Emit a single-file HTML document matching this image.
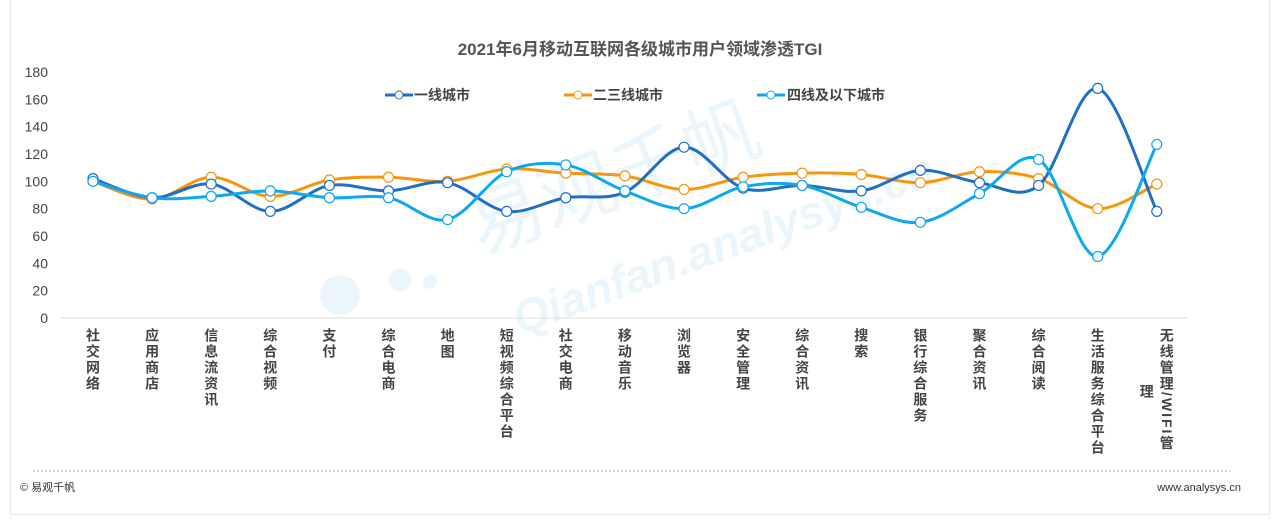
<!DOCTYPE html>
<html><head><meta charset="utf-8"><style>
body{margin:0;background:#fff;width:1280px;height:524px;overflow:hidden;font-family:"Liberation Sans","Noto Sans CJK SC",sans-serif;}
.card{position:absolute;left:10px;top:0;width:1258px;height:514px;border:1px solid #eaeaea;border-top:none;}
.lab{position:absolute;top:328px;writing-mode:vertical-rl;font-size:14px;font-weight:bold;color:#444;line-height:16px;letter-spacing:2px;}
</style></head><body>
<div class="card"></div>
<svg width="1280" height="524" style="position:absolute;left:0;top:0" id="s" font-family="Liberation Sans, Noto Sans CJK SC, sans-serif">
<g fill="#e3f1fb" opacity="0.7">
<text x="480" y="255" font-size="76" transform="rotate(-20 480 255)" font-family="Noto Sans CJK SC, sans-serif">易观千帆</text>
<text x="520" y="335" font-size="46" font-weight="bold" font-style="italic" transform="rotate(-20 520 335)">Qianfan.analysys.cn</text>
<circle cx="340" cy="295" r="20"/><circle cx="400" cy="280" r="11"/><circle cx="430" cy="282" r="7"/>
</g>
<text x="640" y="55" text-anchor="middle" font-size="17" font-weight="bold" fill="#555">2021年6月移动互联网各级城市用户领域渗透TGI</text>
<g font-size="14" fill="#444" text-anchor="end" id="yt"></g>
<line x1="60" y1="318" x2="1187" y2="318" stroke="#ddd" stroke-width="1"/>
<g id="series"></g>
<g font-size="14" font-weight="bold" fill="#444">
<line x1="385" y1="95" x2="413" y2="95" stroke="#1f6fc5" stroke-width="3"/><circle cx="399" cy="95" r="4" fill="#fff" stroke="#1f6fc5"/>
<text x="414" y="100">一线城市</text>
<line x1="564" y1="95" x2="592" y2="95" stroke="#f7960e" stroke-width="3"/><circle cx="578" cy="95" r="4" fill="#fff" stroke="#f7960e"/>
<text x="593" y="100">二三线城市</text>
<line x1="757" y1="95" x2="785" y2="95" stroke="#0ea8ef" stroke-width="3"/><circle cx="771" cy="95" r="4" fill="#fff" stroke="#0ea8ef"/>
<text x="787" y="100">四线及以下城市</text>
</g>
<line x1="33" y1="471" x2="1230" y2="471" stroke="#888" stroke-dasharray="1.5 2.5"/>
<text x="20" y="491" font-size="11" fill="#333">© 易观千帆</text>
<text x="1241" y="491" font-size="11" fill="#333" text-anchor="end">www.analysys.cn</text>
</svg>
<div id="labs"></div>
<script>
const xs=[];for(let i=0;i<19;i++)xs.push(93+i*59.1);
const Y=v=>318-v*246/180;
let yt='';for(let v=0;v<=180;v+=20)yt+=`<text x="48" y="${Y(v)+5}">${v}</text>`;
document.getElementById('yt').innerHTML=yt;
const S=[
["#f7960e",[100,87,103,89,101,103,100,109,106,104,94,103,106,105,99,107,102,80,98]],
["#1f6fc5",[102,88,98,78,97,93,99,78,88,92,125,95,97,93,108,99,97,168,78]],
["#0ea8ef",[100,88,89,93,88,88,72,107,112,93,80,96,97,81,70,91,116,45,127]]];
let out='';
for(const [c,d] of S){
 const p=d.map((v,i)=>[xs[i],Y(v)]);
 let s=`M${p[0][0]},${p[0][1]}`;
 for(let i=0;i<p.length-1;i++){
  const a=p[i-1]||p[i],b=p[i],e=p[i+1],f=p[i+2]||e;
  s+=` C${b[0]+(e[0]-a[0])/6},${b[1]+(e[1]-a[1])/6} ${e[0]-(f[0]-b[0])/6},${e[1]-(f[1]-b[1])/6} ${e[0]},${e[1]}`;
 }
 out+=`<path d="${s}" fill="none" stroke="${c}" stroke-width="3"/>`;
 out+=`<g>`+p.map(q=>`<circle cx="${q[0]}" cy="${q[1]}" r="5" fill="#fff" stroke="${c}" stroke-width="1.2"/>`).join('')+`</g>`;
}
document.getElementById('series').innerHTML=out;
const L=["社交网络","应用商店","信息流资讯","综合视频","支付","综合电商","地图","短视频综合平台","社交电商","移动音乐","浏览器","安全管理","综合资讯","搜索","银行综合服务","聚合资讯","综合阅读","生活服务综合平台"];
let h='';L.forEach((t,i)=>{h+=`<div class="lab" style="left:${xs[i]-8}px">${t}</div>`;});
h+=`<div class="lab" style="left:${xs[18]+2}px">无线管理/WIFI管</div><div class="lab" style="left:${xs[18]-18}px;top:384px">理</div>`;
document.getElementById('labs').innerHTML=h;
</script>
</body></html>
